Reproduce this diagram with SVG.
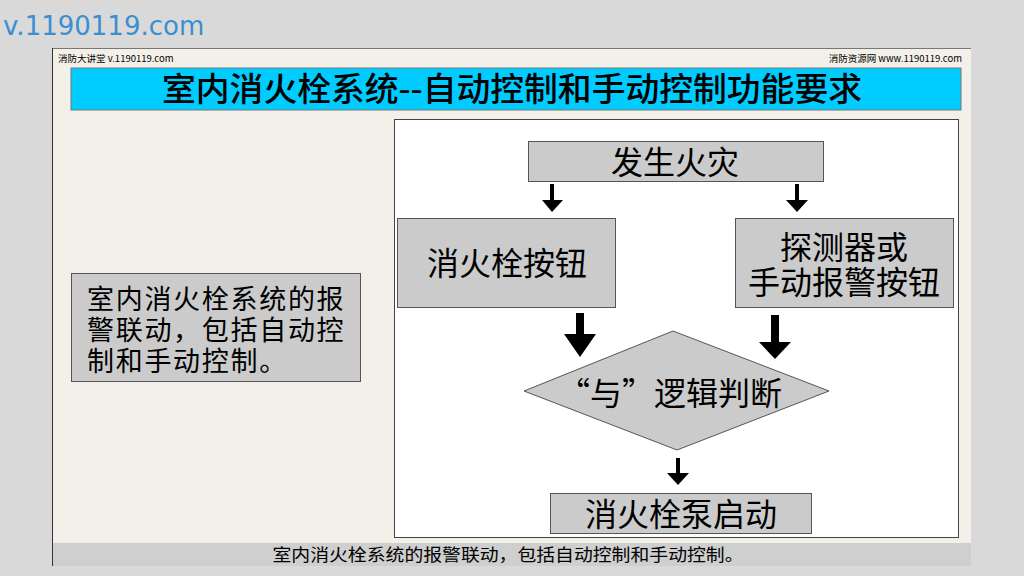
<svg xmlns="http://www.w3.org/2000/svg" width="1024" height="576" viewBox="0 0 1024 576">
<style>
.cjk{font-family:"Noto Sans CJK SC","Noto Sans",sans-serif;fill:#000}
.box{fill:#cbcbcb;stroke:#555;stroke-width:1}
.big{font-size:32px;text-anchor:middle}
.note{font-size:27px;letter-spacing:1.7px}
.arr{fill:#000}
</style>
<rect x="0" y="0" width="1024" height="576" fill="#d9d9d9"/>
<text x="3" y="35" font-family="DejaVu Sans, sans-serif" font-size="26" fill="#3b8fd0">v.1190119.com</text>
<g id="slide">
<rect x="52" y="48" width="919" height="518" fill="#f2f0e8"/>
<line x1="52" y1="48.5" x2="971" y2="48.5" stroke="#777" stroke-width="1"/>
<line x1="52.5" y1="48" x2="52.5" y2="566" stroke="#333" stroke-width="1"/>
<text x="58" y="62" class="cjk" font-size="9.5" fill="#222">消防大讲堂 v.1190119.com</text>
<text x="962" y="62" class="cjk" font-size="9.5" text-anchor="end" fill="#222">消防资源网 www.1190119.com</text>
</g>
<g id="title">
<rect x="71" y="68" width="890" height="42" fill="#00ccff" stroke="#777" stroke-width="1"/>
<text x="512" y="101" class="cjk" font-size="33" text-anchor="middle" font-weight="500" textLength="700" lengthAdjust="spacingAndGlyphs">室内消火栓系统--自动控制和手动控制功能要求</text>
</g>
<g id="panel">
<rect x="394.5" y="119.5" width="564" height="418" fill="#fff" stroke="#444" stroke-width="1"/>
</g>
<g id="note">
<rect x="71.5" y="273.5" width="289" height="108" class="box"/>
<text class="cjk note" x="87" y="309">室内消火栓系统的报</text>
<text class="cjk note" x="87" y="340">警联动，包括自动控</text>
<text class="cjk note" x="87" y="371">制和手动控制。</text>
</g>
<g id="fire">
<rect x="528.5" y="141.5" width="295" height="40" class="box"/>
<text x="675" y="174" class="cjk big">发生火灾</text>
</g>
<g id="hydrant-button">
<rect x="397.5" y="218.5" width="218" height="89" class="box"/>
<text x="507" y="275" class="cjk big">消火栓按钮</text>
</g>
<g id="detector">
<rect x="735.5" y="218.5" width="218" height="89" class="box"/>
<text x="844" y="259" class="cjk big">探测器或</text>
<text x="844" y="294" class="cjk big">手动报警按钮</text>
</g>
<g id="and-logic">
<polygon points="524,391 673,331 829,391 677,450" fill="#cbcbcb" stroke="#555" stroke-width="1"/>
<text x="670" y="405" class="cjk big">“与”逻辑判断</text>
</g>
<g id="pump">
<rect x="550.5" y="493.5" width="261" height="40" class="box"/>
<text x="681" y="526" class="cjk big">消火栓泵启动</text>
</g>
<g id="connectors">
<rect x="550" y="184" width="4" height="17" class="arr"/>
<polygon points="542,200 563,200 552,212" class="arr"/>
<rect x="795" y="184" width="4" height="17" class="arr"/>
<polygon points="786,200 808,200 797,212" class="arr"/>
<rect x="576" y="313" width="8" height="22" class="arr"/>
<polygon points="564,334 596,334 580,357" class="arr"/>
<rect x="771" y="315" width="8" height="28" class="arr"/>
<polygon points="759,342 791,342 775,359" class="arr"/>
<rect x="676" y="458" width="4" height="16" class="arr"/>
<polygon points="667,473 689,473 678,485" class="arr"/>
</g>
<g id="footer">
<rect x="53" y="543" width="918" height="23" fill="#cfcfcf"/>
<text x="508" y="561" class="cjk" font-size="17" text-anchor="middle" textLength="471" lengthAdjust="spacingAndGlyphs">室内消火栓系统的报警联动，包括自动控制和手动控制。</text>
</g>
</svg>
